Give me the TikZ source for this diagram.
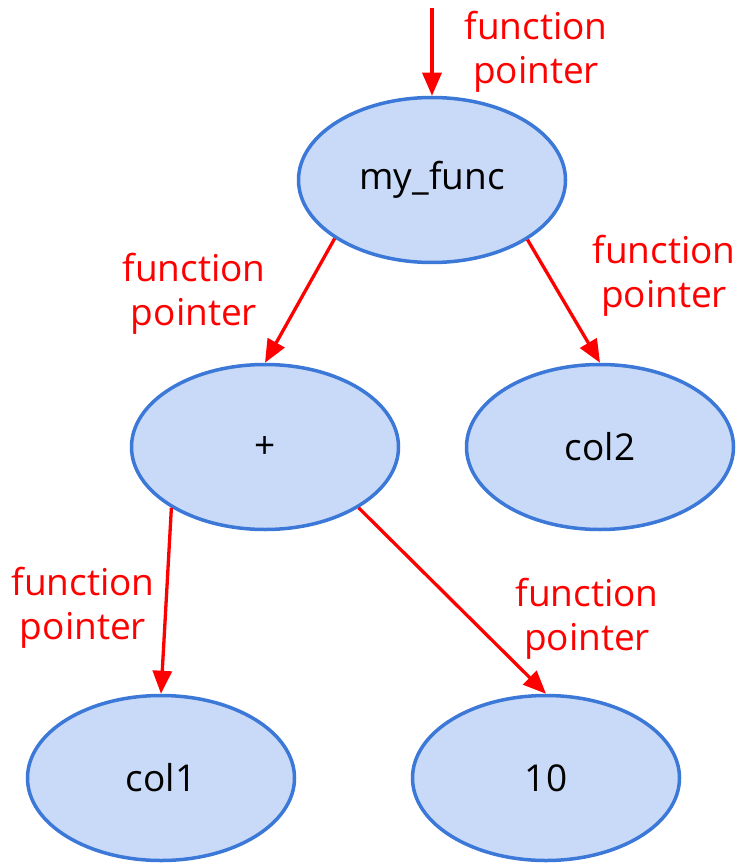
\documentclass[tikz,border=0pt]{standalone}
\usepackage{fontspec}
\setmainfont{Open Sans}
\usetikzlibrary{shapes.geometric,arrows.meta}
\definecolor{nodefill}{HTML}{C9DAF8}
\definecolor{nodeline}{HTML}{3C78D8}
\definecolor{ptrred}{HTML}{FF0000}
\begin{document}
\begin{tikzpicture}[x=1pt,y=-1pt,
  exprnode/.style={ellipse,draw=nodeline,fill=nodefill,line width=3.5pt,
    minimum width=267pt,minimum height=165pt,inner sep=0pt,
    font=\fontsize{37}{44}\selectfont},
  ptr/.style={draw=ptrred,line width=3.3pt,
    -{Triangle[length=23pt,width=19pt]}},
  ptrlabel/.style={text=ptrred,align=center,inner sep=0pt,
    font=\fontsize{37}{44}\selectfont}]
  \useasboundingbox (0,0) rectangle (738,866);
  % expression tree
  \node[exprnode] (root) at (432,180) {my\_func};
  \node[exprnode] (plus) at (265,447) {+};
  \node[exprnode] (col2) at (600,447) {col2};
  \node[exprnode] (col1) at (161,778) {col1};
  \node[exprnode] (ten)  at (546,778) {10};
  % entry pointer
  \coordinate (entry) at (432,8);
  \draw[ptr] (entry) -- (root.north);
  % child pointers
  \draw[ptr] (root.211) -- (plus.north);
  \draw[ptr] (root.328) -- (col2.north);
  \draw[ptr] (plus.213) -- (col1.north);
  \draw[ptr] (plus.327) -- (ten.north);
  % labels
  \node[ptrlabel] (l0) at (536,52) {function\\pointer};
  \node[ptrlabel] (l1) at (194,294) {function\\pointer};
  \node[ptrlabel] (l2) at (664,276) {function\\pointer};
  \node[ptrlabel] (l3) at (83,608) {function\\pointer};
  \node[ptrlabel] (l4) at (587,619) {function\\pointer};
\end{tikzpicture}
\end{document}
